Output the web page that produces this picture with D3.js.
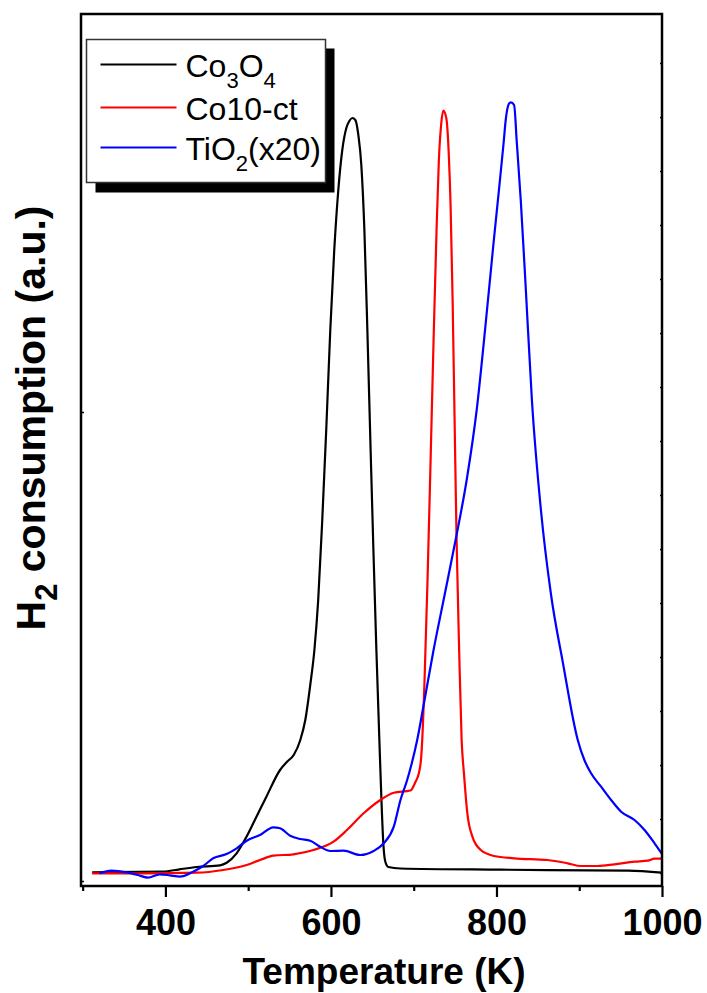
<!DOCTYPE html>
<html>
<head>
<meta charset="utf-8">
<script src="https://cdn.jsdelivr.net/npm/d3@7"></script>
<style>
  body { margin: 0; background: #fff; }
  svg { display: block; font-family: "Liberation Sans", Arial, sans-serif; }
</style>
</head>
<body>
<svg id="chart" width="707" height="993"></svg>
<script>
// TPR profiles, signal in arbitrary units
const co3o4Temp = [311.5, 397, 417, 438, 466, 474, 486, 498, 510, 522, 538.5, 547, 555, 563, 569, 575, 580, 584.6, 589.5, 594.3, 599.2, 604, 608.9, 613.7, 618.6, 622.2, 625.8, 629.5, 633.1, 636.7, 640.4, 644, 647.6, 651.3, 654.9, 658.5, 661, 663.4, 665.8, 669.4, 684, 805, 959, 1000];
const co3o4Signal = [8.7, 9.3, 11.7, 14, 15.7, 18.3, 27.7, 44.3, 64.3, 84.3, 111, 119.3, 126, 141, 161, 196, 231, 281, 361, 451, 551, 631, 691, 731, 753, 760, 763, 761, 746, 716, 651, 551, 441, 331, 231, 141, 81, 36, 19, 14, 12.5, 11.3, 10.3, 8.3];

const co10Temp = [311.5, 377, 437.6, 469.8, 498.2, 514.3, 530.4, 554.7, 578.9, 603.1, 619.4, 639.5, 659.7, 675.9, 696.1, 702.2, 706.2, 709.1, 710.3, 713.1, 716.7, 720.4, 724, 727.6, 730.4, 733.1, 735.7, 739.4, 742.5, 744.6, 747, 749.4, 751.8, 754.9, 757.9, 760.7, 764.8, 770.9, 781, 797.1, 821.3, 861.8, 886.1, 902.2, 922.4, 942.5, 966.8, 983, 991, 1000];
const co10Signal = [7.7, 7.7, 8.3, 11, 16, 21, 25.3, 26.7, 31, 39.3, 51, 67.7, 81, 88.3, 90.5, 99.3, 107.7, 124.3, 141, 201, 301, 421, 541, 651, 721, 756, 770.3, 762.7, 724.3, 674.3, 581, 461, 341, 231, 141, 107.7, 67.7, 44.3, 31, 25, 22.7, 21, 17.7, 15, 15, 16.7, 19.3, 20.3, 22.3, 22.3];

const tio2Temp = [320.4, 334.5, 352.7, 366.8, 378.9, 393.1, 405.2, 417.3, 433.5, 445.6, 457.7, 473.9, 486.1, 498.2, 514.3, 530.4, 538.5, 550.7, 562.8, 574.9, 587, 599.2, 615.3, 635.5, 651.6, 663.8, 675.9, 684, 692.1, 704.2, 713.1, 724, 736.1, 750.6, 764, 776.1, 788.2, 796.7, 803.1, 808.5, 811.3, 814.9, 817.3, 821.3, 824.6, 829.4, 835.5, 842.8, 853.7, 865.8, 880.3, 898.2, 906.2, 914.3, 926.4, 938.5, 950.6, 966.8, 978.9, 991, 1000];
const tio2Signal = [7.7, 10.3, 8.7, 6, 3.3, 6.7, 5.7, 4.3, 9.3, 15, 22.7, 27, 32.7, 40.3, 46, 53.7, 52.7, 45.3, 42, 40.3, 34.3, 30, 30.3, 26, 30, 37.7, 54.3, 81, 101, 141, 181, 231, 281, 341, 401, 471, 568, 640, 692, 737, 762, 777, 778.7, 776, 738, 680, 591, 481, 371, 287, 218, 141, 121, 107.7, 94.3, 81, 69.3, 61, 51, 37.7, 27];

const seriesNames = ['Co3O4', 'Co10-ct', 'TiO2(x20)'];
const seriesColours = ['#000000', '#ff0000', '#0000ff'];
// legend text split into [text, subscript?] runs
const legendRuns = [
  [['Co', false], ['3', true], ['O', false], ['4', true]],
  [['Co10-ct', false]],
  [['TiO', false], ['2', true], ['(x20)', false]]
];
const majorTicks = [400, 600, 800, 1000];
const minorTicks = [300, 500, 700, 900];

const svgW = 707;
const svgH = 993;
const margin = { top: 14, right: 45, bottom: 107, left: 81 };
const width = svgW - margin.left - margin.right;
const height = svgH - margin.top - margin.bottom;

const x = d3.scaleLinear().domain([298, 1000]).range([0, width]);
const y = d3.scaleLinear().domain([-5, 867]).range([height, 0]);

const svg = d3.select('#chart');
const g = svg.append('g').attr('transform', 'translate(' + margin.left + ',' + margin.top + ')');

const series = [
  { temp: co3o4Temp, signal: co3o4Signal },
  { temp: co10Temp, signal: co10Signal },
  { temp: tio2Temp, signal: tio2Signal }
].map((s, i) => ({
  name: seriesNames[i],
  colour: seriesColours[i],
  runs: legendRuns[i],
  values: s.temp.map((t, j) => ({ t: t, v: s.signal[j] }))
}));

g.append('clipPath').attr('id', 'plotClip')
  .append('rect').attr('width', width).attr('height', height);

const line = d3.line()
  .curve(d3.curveMonotoneX)
  .x(d => x(d.t))
  .y(d => y(d.v));

g.append('g')
  .attr('clip-path', 'url(#plotClip)')
  .selectAll('path')
  .data(series)
  .enter().append('path')
  .attr('d', d => line(d.values))
  .style('fill', 'none')
  .style('stroke', d => d.colour)
  .style('stroke-width', 2.2)
  .style('stroke-linejoin', 'round');

// bottom axis, major ticks with labels
const xAxis = g.append('g')
  .attr('transform', 'translate(0,' + height + ')')
  .call(d3.axisBottom(x).tickValues(majorTicks).tickSize(11).tickPadding(12).tickFormat(d3.format('d')));
xAxis.select('.domain').remove();
xAxis.selectAll('line').style('stroke', '#000').style('stroke-width', 2.2);
xAxis.selectAll('text')
  .style('font-size', '36px')
  .style('font-weight', 'bold')
  .style('fill', '#000');

// minor ticks
const xMinor = g.append('g')
  .attr('transform', 'translate(0,' + height + ')')
  .call(d3.axisBottom(x).tickValues(minorTicks).tickSize(5).tickFormat(''));
xMinor.select('.domain').remove();
xMinor.selectAll('line').style('stroke', '#000').style('stroke-width', 2.2);

// left axis: two unlabelled inner ticks
const yAxis = g.append('g')
  .call(d3.axisLeft(y).tickValues([0, 469]).tickSize(-3).tickFormat(''));
yAxis.select('.domain').remove();
yAxis.selectAll('line').style('stroke', '#000').style('stroke-width', 1.5);

// right axis: tiny inner ticks
const yRight = g.append('g')
  .attr('transform', 'translate(' + width + ',0)')
  .call(d3.axisRight(y).tickValues(d3.range(8, 867, 54)).tickSize(-2).tickFormat(''));
yRight.select('.domain').remove();
yRight.selectAll('line').style('stroke', '#000').style('stroke-width', 1.5);

// frame
g.append('rect')
  .attr('width', width)
  .attr('height', height)
  .style('fill', 'none')
  .style('stroke', '#000')
  .style('stroke-width', 2.5);

// axis titles
svg.append('text')
  .attr('x', 384)
  .attr('y', 984)
  .style('text-anchor', 'middle')
  .style('font-size', '37px')
  .style('font-weight', 'bold')
  .text('Temperature (K)');

const yTitle = svg.append('text')
  .attr('transform', 'translate(45,418) rotate(-90)')
  .style('text-anchor', 'middle')
  .style('font-size', '41px')
  .style('font-weight', 'bold');
yTitle.append('tspan').text('H');
yTitle.append('tspan').attr('dy', 12).style('font-size', '31px').text('2');
yTitle.append('tspan').attr('dy', -12).text(' consumption (a.u.)');

function createLegend() {
  const lg = svg.append('g').attr('transform', 'translate(86.5,39.5)');

  lg.append('rect')
    .attr('x', 9)
    .attr('y', 9)
    .attr('width', 239)
    .attr('height', 144)
    .style('fill', '#000');

  lg.append('rect')
    .attr('width', 239)
    .attr('height', 143)
    .style('fill', '#fff')
    .style('stroke', '#333')
    .style('stroke-width', 1.5);

  const rows = lg.selectAll('.entry')
    .data(series)
    .enter().append('g')
    .classed('entry', true)
    .attr('transform', (d, i) => 'translate(0,' + [25, 68, 108][i] + ')');

  rows.append('line')
    .attr('x1', 14)
    .attr('x2', 90)
    .style('stroke', d => d.colour)
    .style('stroke-width', 2.2);

  const labels = rows.append('text')
    .attr('x', 99)
    .attr('y', 12)
    .style('font-size', '32px')
    .style('fill', '#000');

  // write chemical formulas with subscripts
  labels.each(function(d) {
    const t = d3.select(this);
    let sub = false;
    d.runs.forEach(([text, isSub]) => {
      const span = t.append('tspan').text(text);
      if (isSub && !sub) span.attr('dy', 11).style('font-size', '22px');
      else if (isSub) span.style('font-size', '22px');
      else if (sub) span.attr('dy', -11);
      sub = isSub;
    });
  });
}

createLegend();
</script>
</body>
</html>
